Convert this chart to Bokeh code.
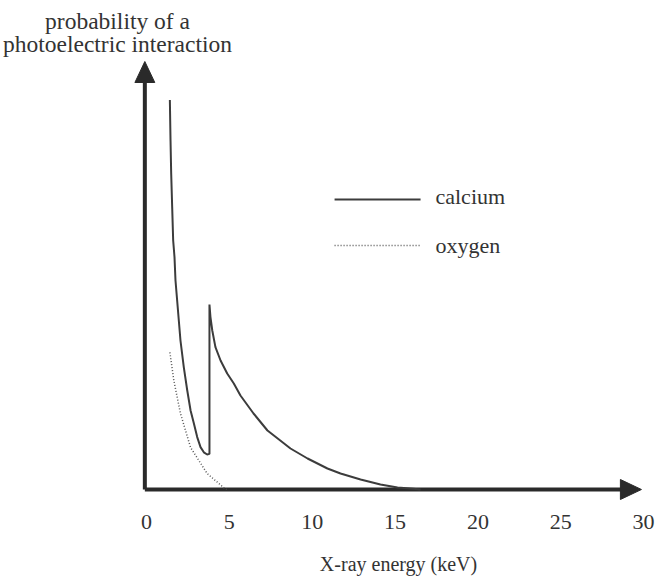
from bokeh.plotting import figure
from bokeh.models import Range1d
from bokeh.core.properties import value
from bokeh.embed import file_html
from bokeh.resources import INLINE

# ---- data (x in keV, y in relative units) ----
calcium_x = [1.41, 1.45, 1.49, 1.55, 1.61, 1.69, 1.75, 1.85, 1.95, 2.05, 2.25,
             2.46, 2.66, 2.86, 3.06, 3.26, 3.46, 3.66, 3.80,
             3.80, 3.86, 3.97, 4.16, 4.47, 4.87, 5.27, 5.67, 6.46, 7.30, 8.69,
             9.72, 10.92, 11.71, 12.92, 14.12, 15.15, 16.11, 16.54]
calcium_y = [97.4, 87.25, 79.0, 70.6, 62.25, 58.1, 52.25, 47.25, 42.25, 37.25, 30.6,
             24.75, 19.75, 16.5, 13.1, 10.6, 9.3, 8.75, 8.9,
             46.25, 43.1, 39.75, 35.6, 32.25, 29.0, 26.5, 23.5, 19.0, 14.75, 10.25,
             7.75, 5.25, 4.0, 2.5, 1.25, 0.5, 0.2, 0.0]
oxygen_x = [1.41, 1.65, 2.05, 2.66, 3.66, 4.65, 4.83]
oxygen_y = [34.3, 27.25, 19.0, 10.5, 4.0, 0.5, 0.0]
x_ticks = [0, 5, 10, 15, 20, 25, 30]
x_tick_labels = [str(t) for t in x_ticks]
series_names = ["calcium", "oxygen"]
x_label = "X-ray energy (keV)"
y_label_lines = ["probability of a", "photoelectric interaction"]

FONT = "Liberation Serif"
INK = "#333333"
LINE = "#3c3c3c"
AXIS = "#2a2a2a"

p = figure(width=663, height=577, output_backend="svg", toolbar_location=None,
           x_range=Range1d(-8.811, 31.201), y_range=Range1d(-22.0, 122.25),
           x_axis_location=None, y_axis_location=None,
           min_border_left=0, min_border_right=0, min_border_top=0, min_border_bottom=0)
p.outline_line_color = None
p.grid.visible = False
p.background_fill_color = "white"
p.border_fill_color = "white"

# axes with arrow heads
p.line([-0.1, 28.7], [0, 0], line_width=4, line_color=AXIS)
p.patch([28.6, 29.87, 28.6], [2.5, 0, -2.5], fill_color=AXIS, line_color=AXIS)
p.line([-0.1, -0.1], [0, 102], line_width=4, line_color=AXIS)
p.patch([-0.7, -0.1, 0.5], [101.75, 107.0, 101.75], fill_color=AXIS, line_color=AXIS)

# tick labels (no tick marks in the original)
p.text(x_ticks, [-8.0] * len(x_ticks), text=x_tick_labels, text_font=value(FONT),
       text_font_size="22px", text_color=INK, text_baseline="alphabetic", text_align="center")

# x label
p.text([15.21], [-18.5], text=[x_label], text_font=value(FONT),
       text_font_size="20px", text_color=INK, text_baseline="alphabetic", text_align="center")

# curves
p.line(calcium_x, calcium_y, line_width=2, line_color=LINE)
p.line(oxygen_x, oxygen_y, line_width=1.5, line_color="#555555", line_dash="1 2")

# legend (drawn by hand, as in the picture)
p.line([11.35, 16.54], [72.5, 72.5], line_width=2, line_color=LINE)
p.line([11.35, 16.54], [61.0, 61.0], line_width=1.5, line_color="#555555", line_dash="1 2")
p.text([17.44, 17.44], [73.25, 61.0], text=series_names, text_font=value(FONT),
       text_font_size="22px", text_color=INK, text_baseline="alphabetic", text_align="left")

# y label (two lines, top left)
p.text([-1.75, -1.75], [117.25, 111.5], text=y_label_lines, text_font=value(FONT),
       text_font_size="23.5px", text_color=INK, text_baseline="alphabetic", text_align="center")

open("out.html", "w").write(file_html(p, INLINE))
